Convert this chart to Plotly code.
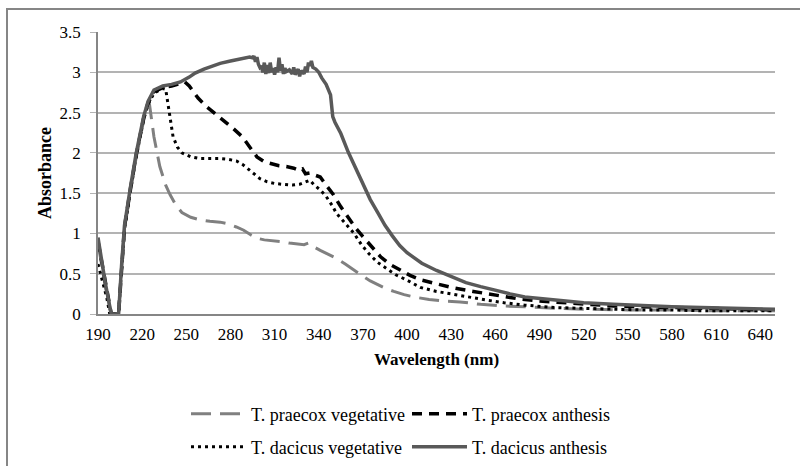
import plotly.graph_objects as go

# ---------------- data ----------------
series_names = ["T. praecox vegetative", "T. praecox anthesis",
                "T. dacicus vegetative", "T. dacicus anthesis"]

wl_pv = [190, 192, 195, 199, 204, 206, 208, 212, 216, 221, 224, 225, 228, 232, 236, 239, 243, 247,
         253, 259, 266, 273, 278, 284, 289, 294, 298, 303, 309, 314, 320, 325, 330, 333, 336, 341,
         347, 352, 358, 364, 370, 375, 380, 385, 391, 398, 405, 415, 425, 436, 450, 464, 480, 500,
         520, 550, 580, 610, 650]
abs_pv = [0.88, 0.68, 0.34, 0.0, 0.0, 0.56, 1.05, 1.52, 1.95, 2.4, 2.62, 2.6, 2.2, 1.83, 1.6, 1.48,
          1.35, 1.26, 1.2, 1.17, 1.15, 1.14, 1.12, 1.08, 1.04, 0.98, 0.94, 0.92, 0.91, 0.9, 0.88,
          0.87, 0.86, 0.88, 0.84, 0.79, 0.74, 0.69, 0.62, 0.55, 0.47, 0.41, 0.36, 0.32, 0.28, 0.24,
          0.21, 0.18, 0.16, 0.15, 0.12, 0.10, 0.09, 0.07, 0.06, 0.05, 0.05, 0.04, 0.04]

wl_pa = [190, 192, 195, 199, 204, 206, 208, 212, 216, 221, 224, 228, 234, 240, 246, 249, 252, 258,
         264, 270, 276, 282, 288, 293, 298, 303, 308, 313, 318, 323, 327, 329, 331, 334, 338, 341,
         345, 350, 355, 360, 365, 370, 376, 382, 388, 395, 402, 410, 420, 430, 445, 460, 475, 490,
         505, 520, 540, 560, 580, 600, 620, 640, 650]
abs_pa = [0.9, 0.7, 0.36, 0.0, 0.0, 0.58, 1.08, 1.55, 1.98, 2.43, 2.62, 2.76, 2.81, 2.83, 2.86,
          2.88, 2.83, 2.68, 2.57, 2.48, 2.4, 2.3, 2.2, 2.08, 1.95, 1.89, 1.86, 1.84, 1.83, 1.81,
          1.78, 1.8, 1.74, 1.75, 1.72, 1.7, 1.6, 1.48, 1.33, 1.19, 1.07, 0.96, 0.83, 0.71, 0.62,
          0.55, 0.48, 0.42, 0.37, 0.33, 0.28, 0.23, 0.19, 0.16, 0.14, 0.12, 0.10, 0.09, 0.08, 0.07,
          0.06, 0.06, 0.05]

wl_dv = [190, 193, 196, 198, 204, 206, 208, 212, 216, 221, 224, 228, 234, 236, 238, 241, 244, 247,
         253, 259, 265, 272, 278, 284, 288, 292, 296, 300, 305, 310, 315, 322, 327, 331, 334, 337,
         341, 345, 349, 352, 358, 364, 369, 374, 380, 387, 392, 400, 409, 420, 432, 445, 455, 466,
         480, 500, 520, 540, 560, 580, 600, 620, 650]
abs_dv = [0.62, 0.42, 0.2, 0.0, 0.0, 0.55, 1.05, 1.52, 1.96, 2.42, 2.6, 2.74, 2.8, 2.79, 2.53,
          2.2, 2.07, 2.0, 1.95, 1.93, 1.93, 1.93, 1.92, 1.9, 1.86, 1.8, 1.74, 1.68, 1.64, 1.62,
          1.61, 1.6, 1.61, 1.64, 1.66, 1.6, 1.54, 1.46, 1.35, 1.25, 1.12, 1.0, 0.86, 0.75, 0.64,
          0.55, 0.49, 0.42, 0.33, 0.28, 0.24, 0.2, 0.17, 0.14, 0.11, 0.08, 0.07, 0.06, 0.05, 0.05,
          0.04, 0.04, 0.04]

wl_da = [190, 192, 195, 199, 204, 206, 208, 212, 216, 221, 224, 228, 234, 240, 246, 252, 256, 262,
         268, 273, 280, 287, 293, 295, 296, 297, 298, 299, 300, 301, 302, 303, 304, 305, 306, 307,
         308, 309, 310, 311, 312, 313, 314, 315, 316, 317, 318, 320, 322, 323, 324, 326, 327, 328,
         330, 331, 332, 333, 334, 335, 336, 338, 340, 342, 345, 348, 349.5, 351, 355, 360, 365, 370,
         375, 380, 385, 390, 395, 400, 410, 420, 430, 440, 450, 460, 470, 480, 490, 500, 520, 540,
         560, 580, 600, 620, 640, 650]
abs_da = [0.95, 0.72, 0.38, 0.0, 0.0, 0.6, 1.1, 1.57, 2.0, 2.45, 2.64, 2.78, 2.83, 2.85, 2.88,
          2.94, 2.99, 3.04, 3.08, 3.11, 3.14, 3.17, 3.19, 3.18, 3.2, 3.13, 3.19, 3.1, 3.06, 3.08,
          3.0, 3.12, 2.98, 3.09, 2.99, 3.12, 3.0, 3.05, 2.97, 3.06, 3.0, 3.18, 3.02, 3.1, 2.98,
          3.05, 3.01, 3.03, 2.98, 3.06, 2.97, 3.04, 2.95, 3.02, 2.98, 3.07, 3.0, 3.12, 3.08, 3.14,
          3.06, 3.04, 3.0, 2.93, 2.85, 2.72, 2.45, 2.38, 2.24, 2.01, 1.82, 1.62, 1.42, 1.26, 1.1,
          0.97, 0.85, 0.76, 0.63, 0.54, 0.46, 0.39, 0.34, 0.29, 0.25, 0.21, 0.19, 0.17, 0.14, 0.12,
          0.10, 0.09, 0.08, 0.07, 0.06, 0.06]

x_ticks = list(range(190, 641, 30))
y_ticks = [0, 0.5, 1, 1.5, 2, 2.5, 3, 3.5]
y_tick_text = ["0", "0.5", "1", "1.5", "2", "2.5", "3", "3.5"]

# ---------------- figure ----------------
FONT = "Times New Roman, Liberation Serif, serif"

styles = [
    dict(color="#808080", width=3, dash="20px,9px"),
    dict(color="#000000", width=3.5, dash="10px,7px"),
    dict(color="#000000", width=3, dash="3px,4px"),
    dict(color="#595959", width=3.5, dash="solid"),
]
xs = [wl_pv, wl_pa, wl_dv, wl_da]
ys = [abs_pv, abs_pa, abs_dv, abs_da]
legend_ids = ["legend", "legend", "legend2", "legend2"]

fig = go.Figure()
for name, x, y, st, lg in zip(series_names, xs, ys, styles, legend_ids):
    fig.add_trace(go.Scatter(x=x, y=y, mode="lines", name=name, line=st,
                             legend=lg, showlegend=True))

W, H = 800, 466
L, R, T, B = 98, 25, 32, 152
pw, ph = W - L - R, H - T - B


def px_to_paper_x(px):
    return (px - L) / pw


def px_to_paper_y(py):
    return (H - B - py) / ph


legend_common = dict(orientation="h", xanchor="left", yanchor="middle",
                     xref="container", yref="container",
                     font=dict(family=FONT, size=18, color="#000000"),
                     bgcolor="rgba(0,0,0,0)", entrywidth=151, itemwidth=55,
                     traceorder="normal")

# outer chart border: only left and top edges are inside the picture
bx, by_top, bx_right, by_bottom = (px_to_paper_x(7), px_to_paper_y(9),
                                   px_to_paper_x(800), px_to_paper_y(466))
border_path = f"M {bx},{by_bottom} L {bx},{by_top} L {bx_right},{by_top}"

fig.update_layout(
    width=W, height=H,
    margin=dict(l=L, r=R, t=T, b=B, autoexpand=False),
    paper_bgcolor="white", plot_bgcolor="white",
    font=dict(family=FONT, size=17, color="#000000"),
    xaxis=dict(range=[190, 650], tickvals=x_ticks, showgrid=False, zeroline=False,
               showline=True, linecolor="#868686", linewidth=1.5, ticks="",
               automargin=False, ticklabelstandoff=4,
               tickfont=dict(family=FONT, size=17, color="#000000"),
               title=dict(text="<b>Wavelength (nm)</b>",
                          font=dict(family=FONT, size=17, color="#000000"),
                          standoff=10)),
    yaxis=dict(range=[0, 3.5], tickvals=y_ticks, ticktext=y_tick_text, showgrid=True,
               gridcolor="#b3b3b3", gridwidth=1.5, zeroline=False,
               showline=True, linecolor="#868686", linewidth=1.5, ticks="outside",
               ticklen=6, tickcolor="#b3b3b3", automargin=False, ticklabelstandoff=6,
               tickfont=dict(family=FONT, size=17, color="#000000"),
               title=dict(text="<b>Absorbance</b>",
                          font=dict(family=FONT, size=18, color="#000000"),
                          standoff=3)),
    legend=dict(x=186 / W, y=1 - 414 / H, **legend_common),
    legend2=dict(x=186 / W, y=1 - 447 / H, **legend_common),
    shapes=[dict(type="path", xref="paper", yref="paper", path=border_path,
                 line=dict(color="#868686", width=2), layer="below")],
)

fig.write_html("out.html",
               config={"displayModeBar": False},
               post_script="document.body.style.margin='0';"
                           "document.body.style.overflow='hidden';")
